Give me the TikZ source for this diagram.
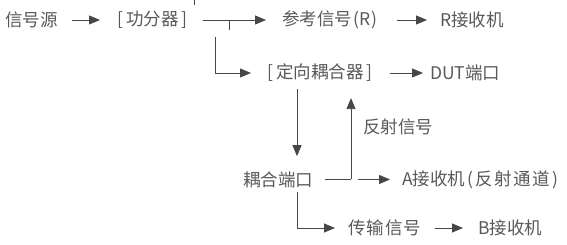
\documentclass[tikz,border=0pt]{standalone}
\usepackage{fontspec}
\setmainfont{Noto Sans CJK SC}
\usepackage{tikz}
\usetikzlibrary{arrows.meta}

\begin{document}
\begin{tikzpicture}[x=1pt,y=1pt,
    every node/.style={font=\fontsize{17.5}{20}\selectfont,text=black!65,inner sep=0pt,anchor=west},
    wire/.style={draw=black!72,line width=0.8pt},
    arr/.style={wire,-{Triangle[length=11pt,width=9pt]}}]
  \useasboundingbox (0,0) rectangle (567,245);
  \foreach \n/\x/\y/\t in {src/5/225/信号源, split/117/225/{[\kern3pt 功分器\kern3pt]},
      ref/282/225/参考信号\kern1pt(R\kern1pt), rrx/440/225/R接收机,
      dc/267/172/{[\kern3pt 定向耦合器\kern3pt]}, dut/430/172/DUT端口,
      refl/363/118/反射信号, cpl/243/65.5/耦合端口,
      arx/402/65.5/A接收机\kern2pt(\kern2.5pt 反\kern1.5pt 射\kern1.5pt 通\kern1.5pt 道\kern2.5pt),
      tx/348/17/传\kern1pt 输\kern1pt 信\kern1pt 号, brx/478/17/B接收机}
    \node (\n) at (\x,\y) {\t};
  % straight runs
  \foreach \a/\b/\s/\e in {src/split/14/17, split/ref/15/16, ref/rrx/20/13,
      dc/dut/17/7, tx/brx/14/15}
    \draw[arr,shorten <=\s pt,shorten >=\e pt] (\a) -- (\b);
  % splitter tap and branch
  \coordinate (stub) at (194,245);
  \coordinate (tee) at (229,225);
  \coordinate (brk) at (215,208);
  \draw[wire] (stub) -- ++(0,-5);
  \draw[wire] (tee) -- ++(0,-10);
  \draw[arr,shorten >=16pt] (brk) |- (dc);
  % coupled path
  \coordinate (dnx) at (297,0);
  \draw[arr,shorten <=7pt,shorten >=15pt] (dc.south -| dnx) -- (cpl.north -| dnx);
  \draw[arr,shorten <=4pt,shorten >=13pt] (cpl.south -| dnx) |- (tx);
  % reflected path
  \coordinate (rc) at (351,65.5);
  \draw[wire,shorten <=12pt] (cpl) -- (rc);
  \draw[arr,shorten >=16pt] (rc) -- (rc |- dc.south);
  \draw[arr,shorten <=7pt,shorten >=12pt] (rc) -- (arx);
\end{tikzpicture}
\end{document}
